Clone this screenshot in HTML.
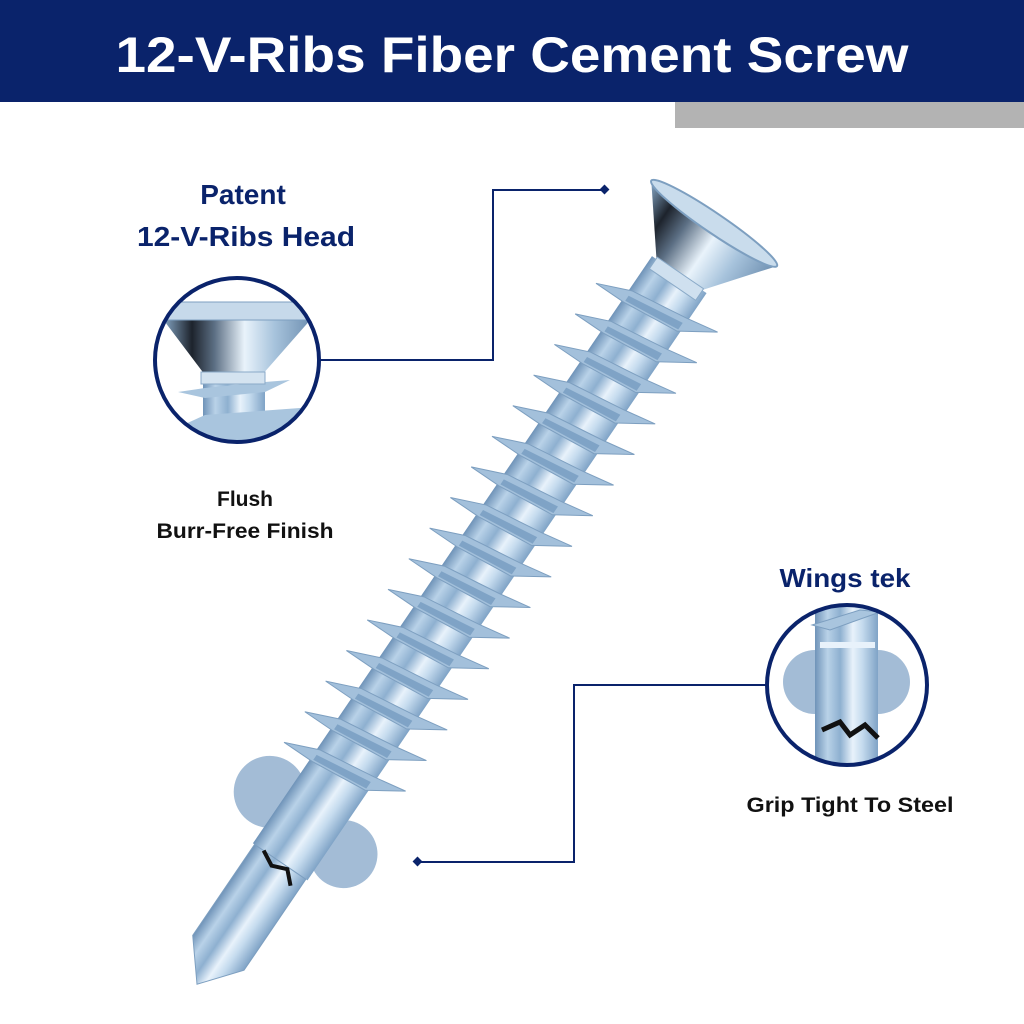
<!DOCTYPE html>
<html><head><meta charset="utf-8"><style>
html,body{margin:0;padding:0;background:#fff;}
svg{display:block}
</style></head><body>
<svg width="1024" height="1024" viewBox="0 0 1024 1024" xmlns="http://www.w3.org/2000/svg">
<defs>
<linearGradient id="sh" x1="0" x2="1" y1="0" y2="0">
<stop offset="0" stop-color="#6f93b8"/><stop offset="0.2" stop-color="#b9d2e8"/><stop offset="0.4" stop-color="#8eb0d0"/><stop offset="0.6" stop-color="#e8f2fb"/><stop offset="0.75" stop-color="#c5dbee"/><stop offset="1" stop-color="#7fa3c6"/>
</linearGradient>
<linearGradient id="hd" x1="0" x2="1" y1="0" y2="0">
<stop offset="0" stop-color="#8aaccc"/><stop offset="0.2" stop-color="#1d232c"/><stop offset="0.35" stop-color="#5c6f84"/><stop offset="0.55" stop-color="#e9f3fb"/><stop offset="0.75" stop-color="#a7c3dc"/><stop offset="1" stop-color="#6e8fb0"/>
</linearGradient>
<clipPath id="c1"><circle cx="237" cy="360" r="82"/></clipPath>
<clipPath id="c2"><circle cx="847" cy="685" r="80"/></clipPath>
<g id="th"><polygon points="-64,14 -30,0 30,-8 64,-14 30,8 -30,14" fill="#a3c0db" stroke="#7d9fc0" stroke-width="1"/><polygon points="-30,6 30,-2 30,6 -30,12" fill="#7fa3c6"/></g>
</defs>
<rect x="0" y="0" width="1024" height="102" fill="#0a236b"/>
<rect x="675" y="102" width="349" height="26" fill="#b3b3b3"/>
<text x="512" y="72" text-anchor="middle" font-family="Liberation Sans, sans-serif" font-weight="bold" font-size="50" fill="#fff" textLength="793" lengthAdjust="spacingAndGlyphs">12-V-Ribs Fiber Cement Screw</text>

<g stroke="#0a236b" stroke-width="2" fill="none">
<polyline points="318,360 493,360 493,190 605,190"/>
<polyline points="418,862 574,862 574,685 767,685"/>
</g>
<rect x="601" y="186" width="7" height="7" fill="#0a236b" transform="rotate(45 604.5 189.5)"/>
<rect x="414" y="858" width="7" height="7" fill="#0a236b" transform="rotate(45 417.5 861.5)"/>

<g transform="translate(713,225) rotate(34.2)">
<circle cx="-48" cy="718" r="36" fill="#a3bcd6"/>
<circle cx="48" cy="728" r="34" fill="#a3bcd6"/>
<rect x="-33" y="60" width="66" height="710" fill="url(#sh)"/>
<use href="#th" y="100"/><use href="#th" y="137"/><use href="#th" y="174"/><use href="#th" y="211"/>
<use href="#th" y="248"/><use href="#th" y="285"/><use href="#th" y="322"/><use href="#th" y="359"/>
<use href="#th" y="396"/><use href="#th" y="433"/><use href="#th" y="470"/><use href="#th" y="507"/>
<use href="#th" y="544"/><use href="#th" y="581"/><use href="#th" y="618"/><use href="#th" y="655"/>
<polygon points="-31,770 31,770 31,880 0,918 -31,880" fill="url(#sh)" stroke="#7d9fc0"/>
<path d="M-20,770 L-5,778 L10,772 L22,784" stroke="#111" stroke-width="4" fill="none"/>
<polygon points="-76,-2 76,-2 26,62 -26,62" fill="url(#hd)"/>
<ellipse cx="0" cy="-2" rx="76" ry="10" fill="#c9dcec" stroke="#7d9fc0" stroke-width="2"/>
<rect x="-28" y="58" width="56" height="14" fill="#cfe0ef" stroke="#8aaac8"/>
</g>

<g clip-path="url(#c1)">
<rect x="150" y="270" width="180" height="180" fill="#fff"/>
<rect x="203" y="370" width="62" height="90" fill="url(#sh)"/>
<polygon points="150,440 205,415 300,408 330,418 300,432 205,448" fill="#a9c5de"/>
<polygon points="178,392 205,388 265,382 290,380 265,392 205,398" fill="#a9c5de"/>
<polygon points="162,318 312,318 262,375 205,375" fill="url(#hd)"/>
<rect x="160" y="302" width="154" height="18" rx="3" fill="#c6d9ea" stroke="#7d9fc0"/>
<rect x="201" y="372" width="64" height="12" fill="#d4e3f0" stroke="#8aaac8"/>
</g>
<circle cx="237" cy="360" r="82" fill="none" stroke="#0a236b" stroke-width="4"/>

<g clip-path="url(#c2)">
<rect x="760" y="600" width="180" height="170" fill="#fff"/>
<circle cx="815" cy="682" r="32" fill="#a3bcd6"/>
<circle cx="878" cy="682" r="32" fill="#a3bcd6"/>
<rect x="815" y="600" width="63" height="170" fill="url(#sh)"/>
<polygon points="812,625 860,610 880,612 830,630" fill="#a9c5de" stroke="#7d9fc0"/>
<rect x="820" y="642" width="55" height="6" fill="#e8f2fb"/>
<path d="M822,730 L840,722 L850,735 L865,725 L878,738" stroke="#111" stroke-width="5" fill="none"/>
</g>
<circle cx="847" cy="685" r="80" fill="none" stroke="#0a236b" stroke-width="4"/>

<g font-family="Liberation Sans, sans-serif" font-weight="bold" text-anchor="middle">
<text x="243" y="204" font-size="28" fill="#0a236b">Patent</text>
<text x="246" y="246" font-size="28" fill="#0a236b" textLength="218" lengthAdjust="spacingAndGlyphs">12-V-Ribs Head</text>
<text x="245" y="506" font-size="21" fill="#111">Flush</text>
<text x="245" y="538" font-size="21" fill="#111" textLength="177" lengthAdjust="spacingAndGlyphs">Burr-Free Finish</text>
<text x="845" y="587" font-size="26" fill="#0a236b" textLength="131" lengthAdjust="spacingAndGlyphs">Wings tek</text>
<text x="850" y="812" font-size="21" fill="#111" textLength="207" lengthAdjust="spacingAndGlyphs">Grip Tight To Steel</text>
</g>
</svg>
</body></html>
